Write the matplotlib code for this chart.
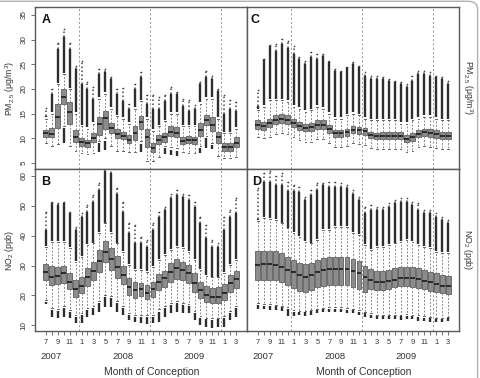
import numpy as np
import matplotlib
matplotlib.use('Agg')
import matplotlib.pyplot as plt
from matplotlib.patches import FancyBboxPatch
from matplotlib.transforms import blended_transform_factory

plt.rcParams['font.family'] = ['Liberation Sans', 'DejaVu Sans']
plt.rcParams['mathtext.fontset'] = 'custom'
plt.rcParams['mathtext.rm'] = 'Liberation Sans'
plt.rcParams['mathtext.it'] = 'Liberation Sans:italic'
plt.rcParams['mathtext.bf'] = 'Liberation Sans:bold'

# ---------------- data ----------------
months = [7, 8, 9, 10, 11, 12,
          1, 2, 3, 4, 5, 6, 7, 8, 9, 10, 11, 12,
          1, 2, 3, 4, 5, 6, 7, 8, 9, 10, 11, 12,
          1, 2, 3]
years = ['2007', '2008', '2009']
year_pos = [1.9, 13.9, 25.9]

nan = np.nan

# Panel A: PM2.5
a_med = [11.0, 10.9, 14.3, 18.4, 15.3, 10.3, 9.3, 9.0, 10.0, 13.0, 14.2, 12.2, 10.8, 10.5, 9.7, 11.0, 13.3,
         10.2, 8.0, 9.7, 10.2, 11.3, 11.1, 9.5, 9.7, 9.6, 11.7, 13.8, 12.7, 10.2, 8.3, 8.3, 9.1]
a_q1 = [10.3, 10.2, 12.2, 17.0, 13.0, 9.3, 8.5, 8.3, 9.3, 10.7, 12.0, 11.1, 10.0, 9.8, 9.0, 9.7, 12.0,
        8.2, 7.3, 8.9, 9.3, 10.5, 10.2, 8.9, 9.0, 8.9, 10.5, 12.7, 11.5, 9.1, 7.5, 7.5, 8.3]
a_q3 = [11.7, 12.1, 17.0, 20.0, 17.4, 11.7, 10.0, 9.7, 11.0, 14.3, 15.5, 13.1, 11.8, 11.3, 10.7, 12.5, 14.5,
        12.0, 9.0, 10.7, 11.1, 12.5, 12.3, 10.3, 10.4, 10.3, 13.1, 14.7, 14.3, 11.3, 9.1, 9.1, 10.3]
a_wlo = [9.0, 8.5, 8.9, 12.5, 8.5, 7.5, 7.0, 6.8, 7.0, 9.5, 10.0, 8.5, 7.5, 7.5, 7.3, 7.3, 9.5,
         5.5, 5.5, 6.3, 8.5, 8.2, 8.0, 7.2, 7.0, 7.0, 8.5, 10.5, 9.0, 6.5, 6.0, 6.0, 6.2]
a_whi = [14.0, 15.0, 21.0, 23.0, 20.0, 15.0, 12.5, 12.0, 13.0, 18.0, 19.0, 16.0, 14.5, 14.0, 13.0, 16.0, 17.5,
         14.0, 11.5, 12.5, 13.5, 15.0, 15.0, 12.5, 12.5, 12.5, 17.0, 18.0, 18.0, 14.0, 11.0, 11.0, 12.0]
a_dtop = [14.5, 19.0, 28.0, 30.5, 28.0, 24.0, 21.0, 20.0, 18.0, 23.0, 23.5, 22.0, 19.0, 17.5, 16.0, 20.0, 22.5,
          17.0, 16.0, 16.0, 17.5, 19.0, 19.0, 16.5, 15.5, 16.0, 21.0, 22.5, 22.0, 19.5, 15.0, 16.0, 15.5]
a_fmax = [16.2, 20.0, 29.4, 32.1, 29.4, 24.7, 25.7, 21.5, 20.5, 24.0, 24.0, 22.4, 20.0, 20.2, 17.0, 21.0, 23.4,
          18.7, 18.7, 18.4, 18.7, 20.4, 19.4, 18.0, 17.7, 16.7, 21.4, 23.7, 22.7, 20.0, 18.7, 17.7, 17.4]
a_lotop = [nan, nan, nan, 12.1, nan, nan, nan, nan, nan, 9.0, 9.5, nan, nan, nan, nan, nan, 8.9,
           nan, nan, nan, 8.0, 7.7, 7.5, nan, nan, nan, 8.0, 10.0, 8.7, nan, nan, nan, nan]
a_lobot = [nan, nan, nan, 9.1, nan, nan, nan, nan, nan, 7.3, 7.7, nan, nan, nan, nan, nan, 7.3,
           nan, nan, nan, 6.8, 6.6, 6.5, nan, nan, nan, 7.0, 8.0, 7.8, nan, nan, nan, nan]

# Panel B: NO2
b_med = [27.7, 26.3, 26.5, 27.4, 24.6, 22.0, 23.2, 26.3, 28.3, 31.5, 34.6, 32.1, 29.4, 26.7, 22.9, 21.8, 22.2,
         20.9, 22.0, 24.6, 25.7, 27.9, 29.1, 28.5, 27.4, 24.0, 21.8, 20.1, 19.4, 19.6, 20.9, 24.3, 25.4]
b_q1 = [25.2, 23.5, 23.7, 24.3, 22.0, 19.4, 20.7, 23.2, 25.2, 27.9, 31.3, 28.5, 25.7, 23.8, 20.1, 19.0, 19.8,
        18.7, 19.6, 21.8, 22.7, 24.6, 25.4, 25.2, 24.0, 21.3, 19.0, 17.9, 17.4, 17.4, 18.5, 21.3, 22.4]
b_q3 = [30.5, 29.8, 29.4, 29.8, 27.4, 25.2, 26.3, 29.1, 31.3, 35.2, 38.2, 35.8, 33.2, 29.8, 25.7, 24.6, 24.0,
        23.5, 24.6, 27.2, 28.3, 30.7, 32.1, 31.3, 30.2, 27.4, 24.6, 23.2, 22.4, 22.7, 23.8, 26.8, 28.3]
b_wlo = [18.5, 15.8, 15.5, 16.3, 15.2, 13.5, 14.2, 15.8, 16.4, 18.0, 20.3, 19.7, 18.0, 16.3, 14.1, 13.5, 13.5,
         13.3, 13.3, 15.3, 16.3, 17.5, 18.0, 17.5, 17.2, 14.7, 13.0, 12.6, 12.4, 12.6, 13.0, 14.7, 16.3]
b_whi = [36.3, 38.0, 38.0, 38.0, 35.8, 31.3, 33.0, 36.9, 37.4, 40.8, 44.1, 40.8, 37.4, 34.6, 30.2, 28.5, 28.5,
         28.0, 29.6, 31.9, 33.5, 35.2, 36.3, 35.8, 34.6, 31.9, 28.5, 26.5, 26.0, 26.0, 27.5, 30.2, 31.9]
b_dtop = [41.9, 50.8, 50.2, 50.8, 47.5, 41.9, 46.3, 48.0, 51.4, 55.3, 61.5, 61.0, 54.1, 48.0, 40.8, 37.4, 37.4,
          36.3, 41.9, 46.3, 48.6, 52.5, 53.6, 53.0, 51.9, 49.7, 44.1, 39.1, 36.3, 36.3, 41.9, 46.3, 47.5]
b_fmax = [48.0, 51.4, 50.8, 51.4, 48.0, 43.0, 47.5, 50.2, 53.6, 57.5, 62.5, 62.5, 55.8, 51.4, 44.1, 43.6, 39.7,
          38.5, 44.1, 48.0, 49.7, 54.1, 55.3, 54.1, 53.6, 51.4, 46.3, 43.6, 38.5, 37.4, 46.3, 48.6, 52.5]
b_lotop = [17.8, 15.1, 14.9, 15.7, 14.6, 12.9, 13.5, 15.1, 15.7, 17.4, 19.6, 19.0, 17.4, 15.7, 13.5, 12.9, 12.9,
           12.7, 12.7, 14.6, 15.7, 16.8, 17.4, 16.8, 16.5, 14.0, 12.3, 12.0, 11.8, 12.0, 12.3, 14.0, 15.7]
b_lobot = [17.0, 12.7, 12.3, 12.7, 12.3, 10.7, 10.7, 12.9, 13.5, 14.6, 16.2, 16.2, 14.6, 13.5, 11.8, 11.2, 10.7,
           10.4, 10.7, 11.2, 12.9, 14.0, 14.6, 14.0, 14.0, 11.8, 10.1, 9.6, 9.0, 9.6, 9.6, 11.8, 12.9]

# Panel C: PM2.5
c_med = [12.8, 12.5, 13.1, 13.8, 14.0, 13.8, 13.1, 12.5, 12.2, 12.3, 12.8, 12.8, 11.8, 11.0, 11.0, 11.2, 11.7,
         11.6, 11.4, 10.6, 10.4, 10.5, 10.5, 10.5, 10.4, 9.9, 10.2, 10.9, 11.2, 11.1, 10.9, 10.5, 10.5]
c_q1 = [12.0, 11.7, 12.3, 12.9, 13.1, 12.9, 12.3, 11.7, 11.5, 11.5, 11.9, 11.9, 11.0, 10.3, 10.3, 10.5, 11.0,
        10.9, 10.7, 10.0, 9.8, 9.8, 9.8, 9.8, 9.8, 9.3, 9.5, 10.2, 10.5, 10.3, 10.1, 9.8, 9.8]
c_q3 = [13.7, 13.3, 14.0, 14.7, 15.0, 14.7, 14.0, 13.3, 13.0, 13.1, 13.8, 13.7, 12.7, 11.7, 11.7, 12.0, 12.5,
        12.3, 12.1, 11.3, 11.1, 11.3, 11.3, 11.3, 11.2, 10.7, 11.0, 11.7, 12.0, 12.0, 11.7, 11.3, 11.3]
c_wlo = [10.3, 10.0, 10.3, 10.8, 11.0, 10.8, 10.3, 9.6, 9.3, 9.3, 9.8, 9.8, 9.0, 8.3, 8.3, 8.5, 9.0,
         8.8, 8.6, 8.0, 7.8, 7.8, 7.8, 7.8, 7.8, 7.3, 7.5, 8.2, 8.5, 8.3, 8.0, 7.8, 7.8]
c_whi = [15.7, 16.4, 17.7, 17.7, 17.7, 17.4, 16.4, 16.0, 15.4, 15.7, 16.4, 16.0, 15.0, 14.0, 14.0, 14.7, 15.0,
         14.7, 14.0, 13.7, 13.7, 13.7, 13.7, 13.7, 13.0, 13.0, 13.7, 14.0, 14.4, 14.4, 14.0, 13.7, 13.7]
c_dtop = [16.5, 26.1, 28.7, 27.7, 29.1, 28.4, 27.1, 26.1, 25.1, 26.4, 26.1, 26.7, 25.4, 23.7, 23.4, 24.4, 25.1,
          24.4, 22.7, 22.0, 22.0, 22.0, 21.7, 21.4, 21.0, 20.4, 21.7, 23.1, 23.1, 22.7, 22.4, 22.0, 21.0]
c_fmax = [19.7, 26.1, 29.0, 29.1, 30.1, 29.7, 28.7, 26.4, 25.7, 27.4, 27.1, 27.1, 25.7, 24.1, 23.7, 24.4, 25.4,
          24.7, 23.4, 22.7, 22.7, 22.4, 22.0, 21.7, 21.4, 21.0, 22.7, 23.7, 23.7, 23.4, 22.7, 22.4, 21.7]
c_lotop = [nan] * 33
c_lobot = [nan] * 33

# Panel D: NO2
d_med = [30.2, 30.4, 30.4, 30.2, 29.6, 28.5, 27.7, 26.8, 26.3, 26.8, 27.9, 28.5, 28.7, 28.7, 28.7, 28.7, 28.3,
         27.4, 26.3, 25.2, 24.6, 24.6, 24.8, 25.2, 25.7, 25.9, 25.7, 25.4, 24.9, 24.6, 23.8, 23.2, 23.2]
d_q1 = [25.2, 25.2, 25.2, 25.2, 24.6, 23.5, 22.4, 21.6, 21.3, 21.8, 22.7, 23.2, 23.4, 23.5, 23.5, 23.4, 22.9,
        22.3, 21.3, 22.0, 21.8, 21.8, 22.0, 22.7, 23.2, 23.2, 22.9, 22.5, 22.0, 21.5, 21.0, 20.7, 20.5]
d_q3 = [34.9, 34.9, 34.9, 34.9, 34.1, 32.7, 31.9, 31.0, 30.5, 31.0, 31.9, 32.4, 32.7, 32.9, 32.9, 32.7, 32.3,
        31.6, 29.8, 28.7, 28.3, 28.3, 28.5, 29.1, 29.6, 29.6, 29.4, 29.1, 28.5, 27.9, 27.4, 26.8, 26.5]
d_wlo = [17.5, 17.0, 17.0, 16.8, 16.5, 16.0, 15.0, 14.8, 14.8, 15.2, 15.5, 15.8, 16.0, 16.0, 16.0, 15.8, 15.5,
         15.0, 14.5, 14.0, 13.5, 13.5, 13.5, 13.5, 13.5, 13.8, 13.5, 13.3, 13.0, 12.8, 12.5, 12.5, 12.8]
d_whi = [45.0, 45.8, 45.5, 45.2, 44.1, 42.4, 40.8, 39.7, 38.0, 37.4, 38.5, 41.9, 41.9, 43.0, 43.0, 43.0, 40.8,
         40.2, 36.9, 35.2, 36.3, 36.3, 36.9, 37.4, 38.0, 38.5, 38.0, 36.9, 36.3, 35.8, 34.6, 34.1, 34.1]
d_dtop = [45.5, 58.0, 58.0, 57.0, 57.0, 55.0, 55.0, 54.5, 52.0, 53.6, 55.3, 56.9, 56.4, 56.4, 56.4, 55.8, 54.1,
          51.9, 47.5, 48.6, 48.6, 48.6, 49.7, 50.8, 51.4, 51.4, 50.2, 48.6, 47.5, 47.5, 46.3, 45.2, 44.1]
d_fmax = [55.9, 61.0, 61.5, 60.0, 61.0, 58.0, 56.9, 56.4, 53.0, 55.3, 57.5, 57.5, 58.0, 58.0, 57.5, 57.0, 55.3,
          53.0, 49.7, 50.2, 49.7, 49.7, 50.8, 51.9, 52.5, 52.5, 51.4, 50.8, 48.6, 48.6, 47.5, 46.3, 45.2]
d_lotop = [16.8, 16.5, 16.3, 16.3, 16.0, 15.5, 14.5, 14.3, 14.3, 14.7, 15.0, 15.3, 15.5, 15.5, 15.3, 15.2, 15.0,
           14.5, 14.0, 13.5, 13.0, 13.0, 13.0, 13.0, 13.0, 13.2, 13.0, 12.8, 12.5, 12.3, 12.0, 12.0, 12.3]
d_lobot = [15.5, 15.3, 15.0, 15.0, 14.8, 13.0, 13.0, 13.5, 13.2, 13.5, 14.0, 14.3, 14.5, 14.5, 14.3, 14.2, 14.0,
           13.5, 12.8, 12.3, 12.0, 12.0, 12.0, 12.0, 11.8, 12.0, 12.0, 11.5, 11.3, 11.0, 11.0, 11.0, 11.5]

pm_label = r'PM$_{2.5}$ (μg/m$^3$)'
no2_label = r'NO$_2$ (ppb)'

# ---------------- style ----------------
BOX_FC = '#8c8c8c'
BOX_EC = '#5e5e5e'
SPINE = '#5a5a5a'
TXT = '#333333'
FLIER = '#2e2e2e'

W, H = 480, 378
fig = plt.figure(figsize=(W / 100, H / 100), dpi=100)

def frac(x0, y0, x1, y1):
    return [x0 / W, 1 - y1 / H, (x1 - x0) / W, (y1 - y0) / H]

axA = fig.add_axes(frac(35, 7, 247, 169))
axC = fig.add_axes(frac(247, 7, 459, 169))
axB = fig.add_axes(frac(35, 169, 247, 331))
axD = fig.add_axes(frac(247, 169, 459, 331))

pos = np.arange(1, len(months) + 1)
xlim = (-0.82, len(months) + 1.82)
dividers = [i + 0.5 for i, m in enumerate(months) if m == 1]


def draw_panel(ax, med, q1, q3, wlo, whi, dtop, fmax, lotop, lobot, ylim):
    stats = [dict(med=m, q1=a, q3=b, whislo=lo, whishi=hi)
             for m, a, b, lo, hi in zip(med, q1, q3, wlo, whi)]
    for d in dividers:
        ax.axvline(d, color='#9a9a9a', lw=0.7, ls=(0, (2.2, 2.2)), zorder=1)
    # dense outliers above whiskers
    ax.vlines(pos, np.array(whi) + 0.3, dtop, colors=FLIER, lw=1.7, zorder=2)
    ax.vlines(pos, dtop, fmax, colors='#444444', lw=1.1, linestyles=(0, (1, 1.6)), zorder=2)
    ax.plot(pos, fmax, 'o', ms=1.2, color='#444444', mew=0, zorder=2)
    lt = np.array(lotop, dtype=float)
    lb = np.array(lobot, dtype=float)
    ok = ~np.isnan(lt)
    if ok.any():
        ax.vlines(pos[ok], lb[ok], lt[ok], colors=FLIER, lw=1.7, zorder=2)
    ax.bxp(stats, positions=pos, widths=0.8, patch_artist=True, showfliers=False,
           capwidths=0.3,
           boxprops=dict(facecolor=BOX_FC, edgecolor=BOX_EC, lw=0.6),
           medianprops=dict(color='#111111', lw=1.1),
           whiskerprops=dict(color='#8a8a8a', lw=0.7, ls=(0, (2, 1.6))),
           capprops=dict(color='#666666', lw=0.7),
           manage_ticks=False, zorder=3)
    ax.set_xlim(*xlim)
    ax.set_ylim(*ylim)
    for s in ax.spines.values():
        s.set_color(SPINE)
        s.set_linewidth(1.0)
    ax.tick_params(colors=SPINE, labelcolor=TXT, length=3, width=0.6)


draw_panel(axA, a_med, a_q1, a_q3, a_wlo, a_whi, a_dtop, a_fmax, a_lotop, a_lobot, (3.8, 36.6))
draw_panel(axC, c_med, c_q1, c_q3, c_wlo, c_whi, c_dtop, c_fmax, c_lotop, c_lobot, (3.8, 36.6))
draw_panel(axB, b_med, b_q1, b_q3, b_wlo, b_whi, b_dtop, b_fmax, b_lotop, b_lobot, (8.1, 62.3))
draw_panel(axD, d_med, d_q1, d_q3, d_wlo, d_whi, d_dtop, d_fmax, d_lotop, d_lobot, (8.1, 62.3))

# y ticks on left panels
for ax, ticks in ((axA, [5, 10, 15, 20, 25, 30, 35]), (axB, [10, 20, 30, 40, 50, 60])):
    ax.set_yticks(ticks)
    ax.set_yticklabels([str(t) for t in ticks], rotation=90, va='center', fontsize=5.8)
    ax.tick_params(axis='y', pad=2.5)
for ax in (axC, axD):
    ax.tick_params(axis='y', left=False, labelleft=False)
for ax in (axA, axC):
    ax.tick_params(axis='x', bottom=False, labelbottom=False)
for ax in (axB, axD):
    ax.set_xticks(pos)
    ax.set_xticklabels([str(m) if i % 2 == 0 else '' for i, m in enumerate(months)], fontsize=5.4)
    ax.tick_params(axis='x', pad=2.5, length=3)
    tr = blended_transform_factory(ax.transData, ax.transAxes)
    for yl, xp in zip(years, year_pos):
        ax.text(xp, -0.157, yl, transform=tr, ha='center', va='center', fontsize=6.8, color=TXT)
    ax.text(18.8, -0.256, 'Month of Conception', transform=tr, ha='center', va='center',
            fontsize=7.5, color=TXT)

# axis labels
axA.text(-0.118, 0.5, pm_label, transform=axA.transAxes, rotation=90, ha='center', va='center',
         fontsize=6.3, color=TXT)
axB.text(-0.118, 0.5, no2_label, transform=axB.transAxes, rotation=90, ha='center', va='center',
         fontsize=6.3, color=TXT)
axC.text(1.042, 0.5, pm_label, transform=axC.transAxes, rotation=-90, ha='center', va='center',
         fontsize=6.3, color=TXT)
axD.text(1.042, 0.5, no2_label, transform=axD.transAxes, rotation=-90, ha='center', va='center',
         fontsize=6.3, color=TXT)

# panel letters
for ax, lab, xo in ((axA, 'A', 0.03), (axB, 'B', 0.03), (axC, 'C', 0.018), (axD, 'D', 0.022)):
    ax.text(xo, 0.955, lab, transform=ax.transAxes, ha='left', va='top', fontsize=9,
            fontweight='bold', color='#111111')

# outer rounded frame
frame = FancyBboxPatch((-0.02, -0.03), 1.015, 1.0266,
                       boxstyle='round,pad=0,rounding_size=0.02',
                       transform=fig.transFigure, fc='none', ec='#b0b0b0', lw=1.0)
fig.add_artist(frame)

fig.savefig('out.png', dpi=100)
